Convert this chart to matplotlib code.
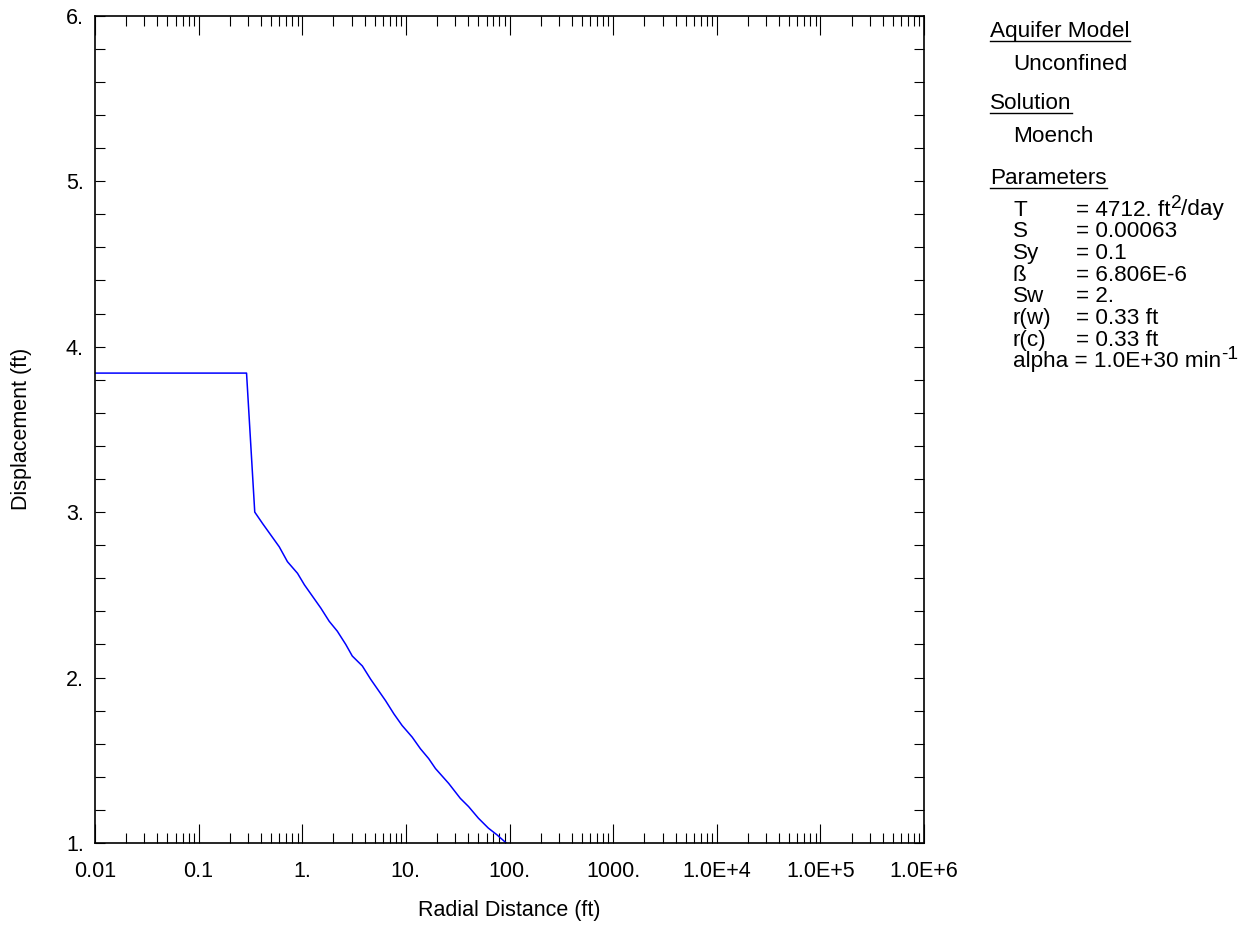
import matplotlib

matplotlib.use("Agg")

import matplotlib.pyplot as plt
from matplotlib.lines import Line2D
from matplotlib.ticker import FixedLocator, LogLocator, NullFormatter, FixedFormatter
import numpy as np

plt.rcParams["font.family"] = ["Liberation Sans", "DejaVu Sans"]

# curve
radial_dist = [0.01, 0.29, 0.348, 0.415, 0.60, 0.72, 0.90, 1.05, 1.51, 1.82, 2.18,
               2.63, 3.04, 3.80, 4.57, 6.37, 7.67, 9.2, 11.5, 13.8, 16.6, 19.3,
               25.9, 33.5, 40.3, 50.1, 62.5, 75.5, 93.0]
displacement = [3.84, 3.84, 3.00, 2.93, 2.79, 2.70, 2.63, 2.56, 2.42, 2.34, 2.28,
                2.20, 2.13, 2.07, 1.99, 1.86, 1.78, 1.71, 1.64, 1.57, 1.51, 1.45,
                1.36, 1.27, 1.22, 1.15, 1.09, 1.05, 1.00]

x_major = [0.01, 0.1, 1, 10, 100, 1000, 1e4, 1e5, 1e6]
x_labels = ["0.01", "0.1", "1.", "10.", "100.", "1000.", "1.0E+4", "1.0E+5", "1.0E+6"]
y_major = [1, 2, 3, 4, 5, 6]
y_labels = ["1.", "2.", "3.", "4.", "5.", "6."]

headings = [("Aquifer Model", "Unconfined"), ("Solution", "Moench")]
param_names = ["T", "S", "Sy", "ß", "Sw", "r(w)", "r(c)"]
# each value is (text, superscript, text after superscript)
param_values = [("= 4712. ft", "2", "/day"), ("= 0.00063", "", ""), ("= 0.1", "", ""),
                ("= 6.806E-6", "", ""), ("= 2.", "", ""), ("= 0.33 ft", "", ""),
                ("= 0.33 ft", "", "")]
alpha_line = ("alpha = 1.0E+30 min", "-1", "")

W, H = 1250, 926
fig = plt.figure(figsize=(12.5, 9.26), dpi=100)
ax = fig.add_axes([95 / W, 1 - 843 / H, (924 - 95) / W, (843 - 15.7) / H])

ax.plot(radial_dist, displacement, color="#0000ff", lw=1.1)

ax.set_xscale("log")
ax.set_xlim(0.01, 1e6)
ax.set_ylim(1, 6)

ax.xaxis.set_major_locator(FixedLocator(x_major))
ax.xaxis.set_major_formatter(FixedFormatter(x_labels))
ax.xaxis.set_minor_locator(LogLocator(base=10, subs=np.arange(2, 10), numticks=20))
ax.xaxis.set_minor_formatter(NullFormatter())
ax.yaxis.set_major_locator(FixedLocator(y_major))
ax.yaxis.set_major_formatter(FixedFormatter(y_labels))
ax.yaxis.set_minor_locator(FixedLocator(np.arange(1, 6.01, 0.2)))

for s in ax.spines.values():
    s.set_linewidth(1.2)

ax.tick_params(which="both", direction="in", top=True, right=True, width=0.8,
               labelsize=15.5, colors="black")
ax.tick_params(axis="x", which="major", length=14, pad=13)
ax.tick_params(axis="x", which="minor", length=7)
ax.tick_params(axis="y", which="both", length=7, pad=8)

ax.set_xlabel("Radial Distance (ft)", fontsize=15.5)
ax.set_ylabel("Displacement (ft)", fontsize=15.5)
ax.xaxis.set_label_coords(0.5, -0.069)
ax.yaxis.set_label_coords(-0.076, 0.5)

# side panel
fs = 16.2
fig.canvas.draw()
renderer = fig.canvas.get_renderer()


def put_row(x, y, parts):
    main, sup, tail = parts
    t = fig.text(x / W, 1 - y / H, main, fontsize=fs, va="center", ha="left")
    if not sup:
        return
    x1 = t.get_window_extent(renderer).x1
    s = fig.text(x1 / W, 1 - (y - 7) / H, sup, fontsize=fs * 0.85, va="center", ha="left")
    if tail:
        x2 = s.get_window_extent(renderer).x1
        fig.text(x2 / W, 1 - y / H, tail, fontsize=fs, va="center", ha="left")


heading_texts = []
y = 31.5
for head, item in headings:
    t = fig.text(990 / W, 1 - y / H, head, fontsize=fs, va="center", ha="left")
    heading_texts.append(t)
    fig.text(1013 / W, 1 - (y + 33) / H, item, fontsize=fs, va="center", ha="left")
    y += 72
t = fig.text(990 / W, 1 - 178.5 / H, "Parameters", fontsize=fs, va="center", ha="left")
heading_texts.append(t)

row_y = 210
for name, val in zip(param_names, param_values):
    fig.text(1013 / W, 1 - row_y / H, name, fontsize=fs, va="center", ha="left")
    put_row(1076, row_y, val)
    row_y += 21.7
put_row(1013, row_y, alpha_line)

# underline the headings
for t in heading_texts:
    bb = t.get_window_extent(renderer)
    yline = bb.y0 + 1
    fig.add_artist(Line2D([bb.x0 / W, bb.x1 / W], [yline / H, yline / H],
                          transform=fig.transFigure, color="black", lw=1.0))

fig.savefig("out.png", dpi=100)
